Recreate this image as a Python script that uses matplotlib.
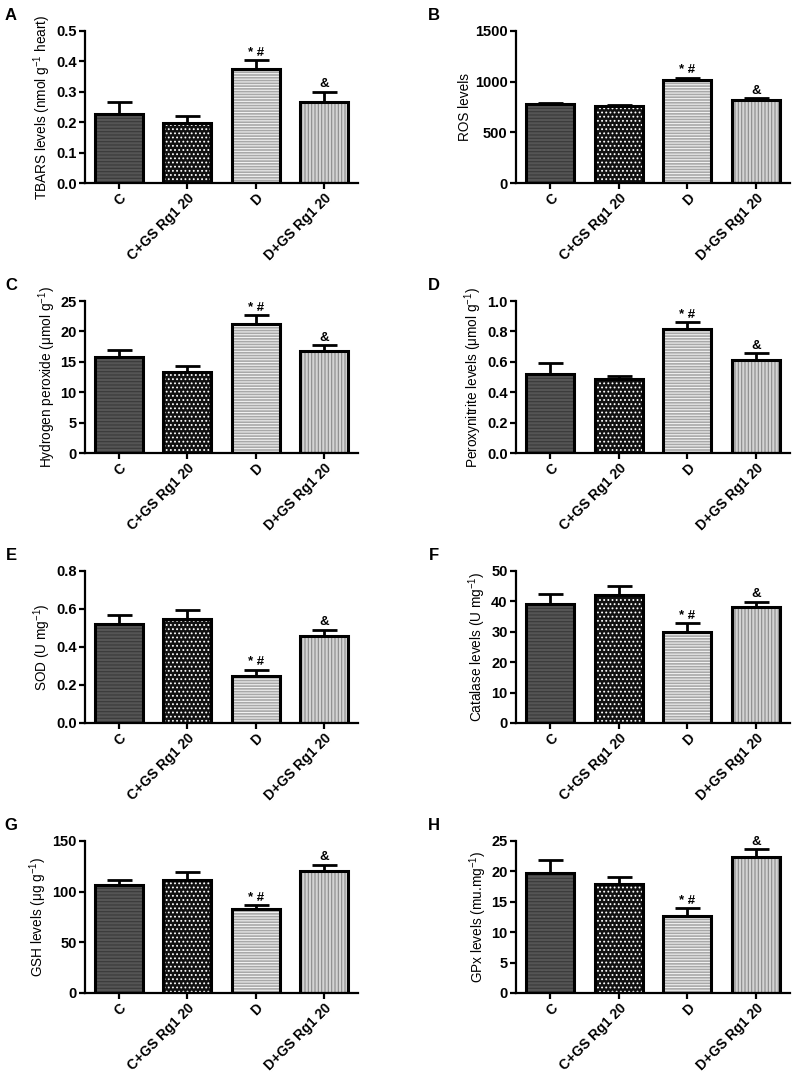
import numpy as np
import matplotlib
matplotlib.use('Agg')
import matplotlib.pyplot as plt

plt.rcParams['font.family'] = ['Liberation Sans', 'DejaVu Sans']
plt.rcParams['mathtext.fontset'] = 'custom'
plt.rcParams['mathtext.rm'] = 'Liberation Sans'
plt.rcParams['mathtext.it'] = 'Liberation Sans:italic'
plt.rcParams['mathtext.bf'] = 'Liberation Sans:bold'
plt.rcParams['hatch.linewidth'] = 0.8

# групи
groups = ['C', 'C+GS Rg1 20', 'D', 'D+GS Rg1 20']

# значення (середнє, похибка) для кожної панелі
tbars = [0.226, 0.198, 0.374, 0.265]
tbars_err = [0.039, 0.021, 0.029, 0.035]
ros = [780, 762, 1012, 818]
ros_err = [12, 8, 28, 16]
h2o2 = [15.8, 13.3, 21.2, 16.8]
h2o2_err = [1.1, 0.95, 1.5, 0.9]
peroxy = [0.523, 0.486, 0.817, 0.612]
peroxy_err = [0.066, 0.02, 0.044, 0.043]
sod = [0.52, 0.545, 0.248, 0.458]
sod_err = [0.05, 0.05, 0.032, 0.033]
catalase = [39.3, 42.1, 29.8, 38.2]
catalase_err = [3.2, 3.1, 3.0, 1.7]
gsh = [106.5, 112.0, 83.0, 120.5]
gsh_err = [5.5, 7.8, 3.5, 6.0]
gpx = [19.8, 18.0, 12.7, 22.4]
gpx_err = [2.0, 1.1, 1.2, 1.3]

panels = [
    ('A', tbars, tbars_err, 0.5, 0.1, '%.1f', 'TBARS levels (nmol g$^{-1}$ heart)', ['* #', '&'], [2, 3]),
    ('B', ros, ros_err, 1500, 500, '%d', 'ROS levels', ['* #', '&'], [2, 3]),
    ('C', h2o2, h2o2_err, 25, 5, '%d', 'Hydrogen peroxide (\u03bcmol g$^{-1}$)', ['* #', '&'], [2, 3]),
    ('D', peroxy, peroxy_err, 1.0, 0.2, '%.1f', 'Peroxynitrite levels (\u03bcmol g$^{-1}$)', ['* #', '&'], [2, 3]),
    ('E', sod, sod_err, 0.8, 0.2, '%.1f', 'SOD (U mg$^{-1}$)', ['* #', '&'], [2, 3]),
    ('F', catalase, catalase_err, 50, 10, '%d', 'Catalase levels (U mg$^{-1}$)', ['* #', '&'], [2, 3]),
    ('G', gsh, gsh_err, 150, 50, '%d', 'GSH levels (\u03bcg g$^{-1}$)', ['* #', '&'], [2, 3]),
    ('H', gpx, gpx_err, 25, 5, '%d', 'GPx levels (mu.mg$^{-1}$)', ['* #', '&'], [2, 3]),
]

# заливка і штрихування для кожної групи
face = ['#555555', '#111111', '#a8a8a8', '#d4d4d4']
hatch = ['-----', '....', '------', '|||||']
hatch_col = ['#3a3a3a', '#ffffff', '#f2f2f2', '#8a8a8a']

W, H = 795, 1080
fig = plt.figure(figsize=(W / 100, H / 100), dpi=100)

col_left = [85, 516]
col_width = [273, 274]
row_top = [31, 301, 571, 841]
ax_h = 152

for i, (letter, vals, errs, ymax, step, fmt, ylabel, marks, mark_idx) in enumerate(panels):
    r, c = divmod(i, 2)
    left = col_left[c] / W
    bottom = 1 - (row_top[r] + ax_h) / H
    ax = fig.add_axes([left, bottom, col_width[c] / W, ax_h / H])

    x = np.arange(len(groups))
    for j in range(len(groups)):
        ax.bar(x[j], vals[j], width=0.7, color=face[j], hatch=hatch[j],
               edgecolor=hatch_col[j], linewidth=0, zorder=2)
        ax.bar(x[j], vals[j], width=0.7, fill=False, edgecolor='black',
               linewidth=2.2, zorder=3)
    ax.errorbar(x, vals, yerr=[np.zeros(len(vals)), errs], fmt='none',
                ecolor='black', elinewidth=2, capsize=9, capthick=2, zorder=4)

    for m, k in zip(marks, mark_idx):
        ax.annotate(m, (x[k], vals[k] + errs[k]), xytext=(0, 1),
                    textcoords='offset points', ha='center', va='bottom',
                    fontsize=9.5, fontweight='bold')

    ax.set_xlim(-0.5, 3.5)
    ax.set_ylim(0, ymax)
    ax.set_yticks(np.arange(0, ymax + step / 2, step))
    ax.yaxis.set_major_formatter(matplotlib.ticker.FormatStrFormatter(fmt))
    ax.set_xticks(x)
    ax.set_xticklabels(groups, rotation=45, ha='right', rotation_mode='anchor',
                       fontsize=10, fontweight='bold')
    for lab in ax.get_yticklabels():
        lab.set_fontweight('bold')
        lab.set_fontsize(10.5)
    ax.set_ylabel(ylabel, fontsize=9.8, labelpad=2)
    ax.spines['top'].set_visible(False)
    ax.spines['right'].set_visible(False)
    ax.spines['left'].set_linewidth(1.6)
    ax.spines['bottom'].set_linewidth(1.6)
    ax.tick_params(axis='both', direction='out', width=1.6, length=4, pad=2)

    fig.text((11 if c == 0 else 434) / W, 1 - (15 + 270 * r) / H, letter,
             fontsize=12, fontweight='bold', ha='center', va='center')

plt.savefig('out.png', dpi=100)
